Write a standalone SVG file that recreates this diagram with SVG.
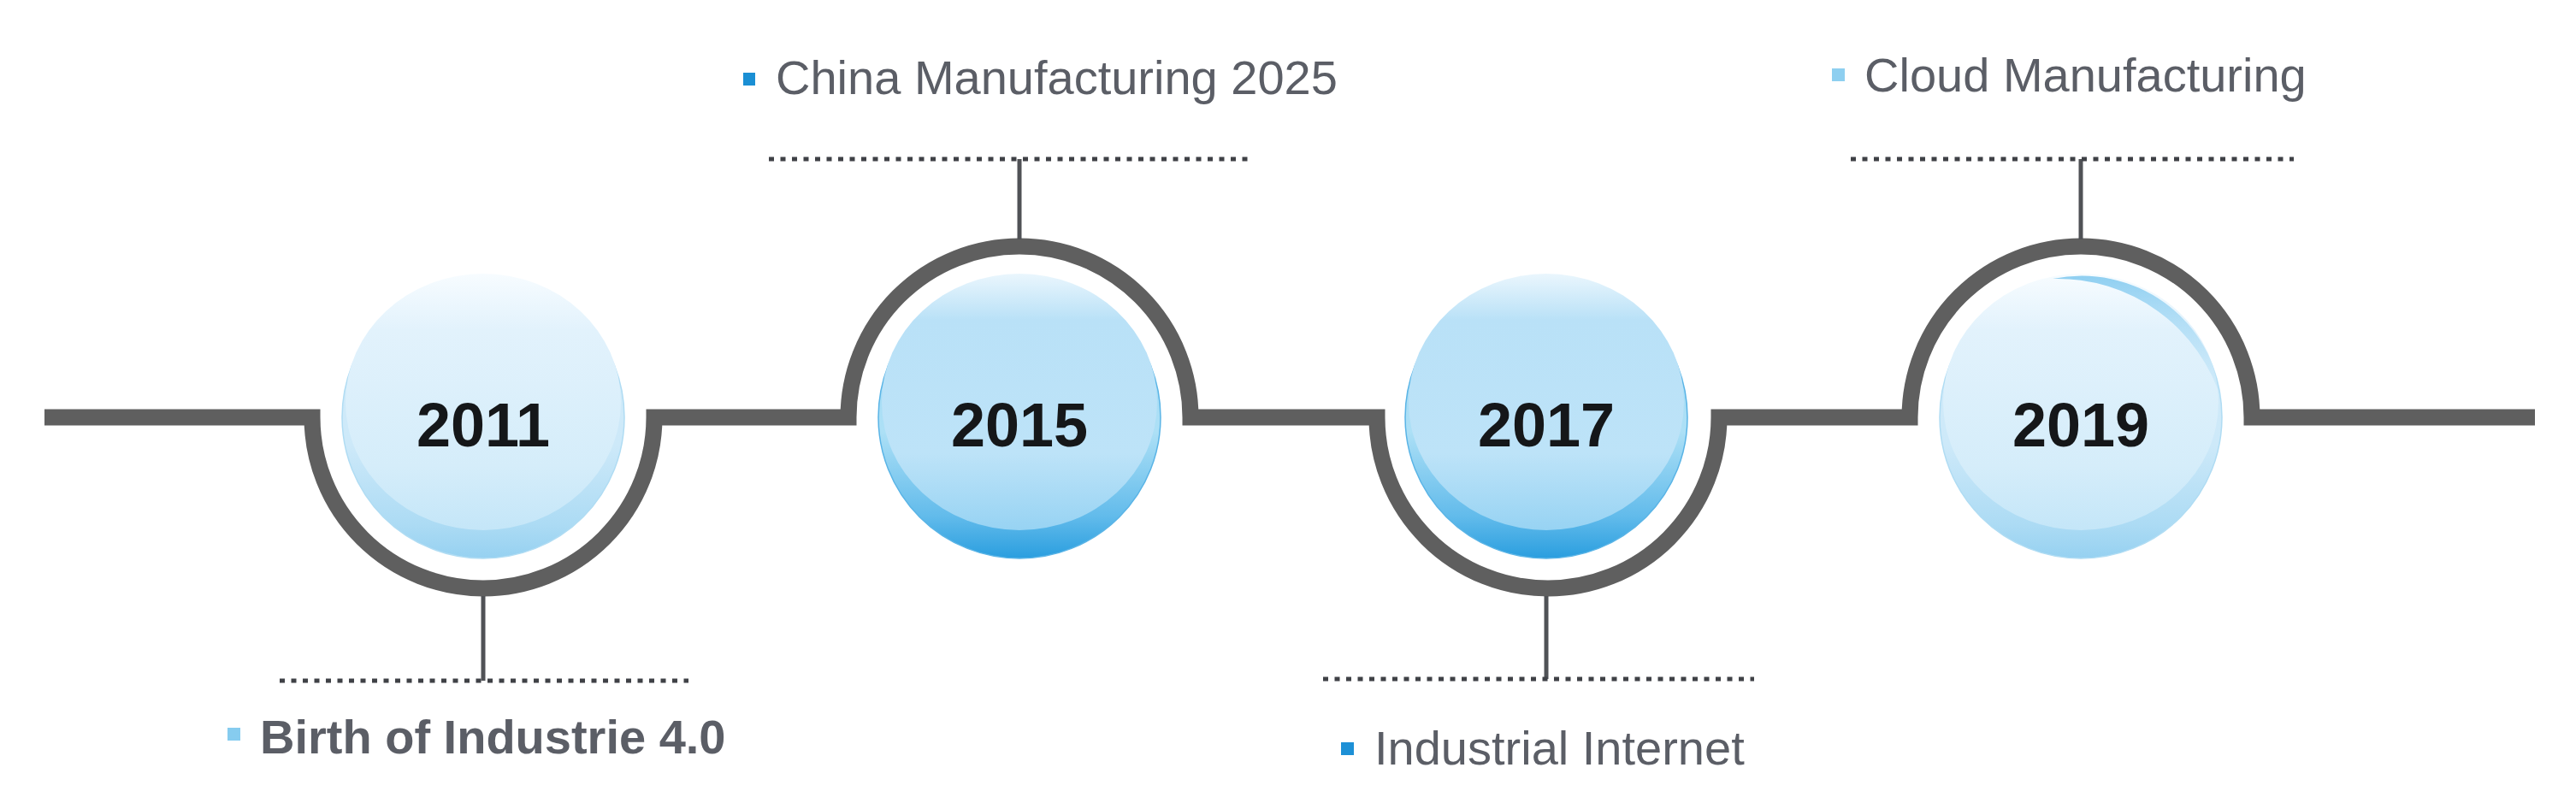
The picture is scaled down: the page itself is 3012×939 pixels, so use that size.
<svg xmlns="http://www.w3.org/2000/svg" width="3012" height="939" viewBox="0 0 3012 939">
<defs>
<linearGradient id="paleOuter" x1="0" y1="0" x2="0" y2="1">
<stop offset="0" stop-color="#d4ecf9"/><stop offset="0.6" stop-color="#cde9f9"/><stop offset="0.88" stop-color="#acdbf4"/><stop offset="1" stop-color="#96d1f1"/>
</linearGradient>
<linearGradient id="paleInner" x1="0" y1="0" x2="0" y2="1">
<stop offset="0" stop-color="#f7fcff"/><stop offset="0.22" stop-color="#e2f2fc"/><stop offset="0.75" stop-color="#d5edfa"/><stop offset="1" stop-color="#c4e6f8"/>
</linearGradient>
<linearGradient id="strongOuter" x1="0" y1="0" x2="0" y2="1">
<stop offset="0" stop-color="#9ad4f2"/><stop offset="0.55" stop-color="#ade0f6"/><stop offset="0.85" stop-color="#62bbeb"/><stop offset="1" stop-color="#2a9edf"/>
</linearGradient>
<linearGradient id="strongInner" x1="0" y1="0" x2="0" y2="1">
<stop offset="0" stop-color="#eaf6fd"/><stop offset="0.18" stop-color="#b9e1f7"/><stop offset="0.7" stop-color="#bde3f8"/><stop offset="1" stop-color="#97d3f3"/>
</linearGradient>
<linearGradient id="crescent" x1="0" y1="0" x2="0" y2="1">
<stop offset="0" stop-color="#8fcff1"/><stop offset="1" stop-color="#bfe4f8" stop-opacity="0.3"/>
</linearGradient>
<style>
.track{fill:none;stroke:#5f5f5f;stroke-width:19;stroke-linejoin:miter}
.stem{stroke:#505256;stroke-width:5}
.dots{stroke:#3f4146;stroke-width:5;stroke-dasharray:6 7.5}
.year{font-family:"Liberation Sans",Arial,sans-serif;font-weight:bold;font-size:72px;fill:#151719;text-anchor:middle}
.lbl{font-family:"Liberation Sans",Arial,sans-serif;font-size:56px;fill:#5b5e66}
.bold{font-weight:bold}
.pale{fill:url(#paleOuter);stroke:#b0dcf3;stroke-width:1.5}
.paleIn{fill:url(#paleInner)}
.strong{fill:url(#strongOuter);stroke:#5ab4e6;stroke-width:1.5}
.strongIn{fill:url(#strongInner)}
</style>
</defs>
<rect width="3012" height="939" fill="#ffffff"/>
<g id="connectors">
<path class="track" d="M52,488 H365 A200,200 0 0 0 765,488 H992 A200,200 0 0 1 1392,488 H1610 A200,200 0 0 0 2010,488 H2233 A200,200 0 0 1 2633,488 H2964"/>
<line class="stem" x1="565" y1="697" x2="565" y2="796"/>
<line class="dots" x1="327" y1="796" x2="805" y2="796"/>
<line class="stem" x1="1192" y1="186" x2="1192" y2="280"/>
<line class="dots" x1="899" y1="186" x2="1465" y2="186"/>
<line class="stem" x1="1808" y1="697" x2="1808" y2="794"/>
<line class="dots" x1="1547" y1="794" x2="2051" y2="794"/>
<line class="stem" x1="2433" y1="186" x2="2433" y2="280"/>
<line class="dots" x1="2164" y1="186" x2="2682" y2="186"/>
</g>
<g id="node-2011">
<circle class="pale" cx="565" cy="488" r="165"/>
<ellipse class="paleIn" cx="565" cy="470" rx="161" ry="150"/>
<text class="year" x="565" y="522">2011</text>
</g>
<g id="node-2015">
<circle class="strong" cx="1192" cy="488" r="165"/>
<ellipse class="strongIn" cx="1192" cy="470" rx="161" ry="150"/>
<text class="year" x="1192" y="522">2015</text>
</g>
<g id="node-2017">
<circle class="strong" cx="1808" cy="488" r="165"/>
<ellipse class="strongIn" cx="1808" cy="470" rx="161" ry="150"/>
<text class="year" x="1808" y="522">2017</text>
</g>
<g id="node-2019">
<circle class="pale" cx="2433" cy="488" r="165"/>
<ellipse class="paleIn" cx="2433" cy="470" rx="161" ry="150"/>
<path d="M2400,326 A165,165 0 0 1 2598,470 A200,200 0 0 0 2400,326 Z" fill="url(#crescent)"/>
<text class="year" x="2433" y="522">2019</text>
</g>
<g id="label-2011">
<rect x="266" y="851" width="15" height="15" fill="#86ccef"/>
<text class="lbl bold" x="304" y="881">Birth of Industrie 4.0</text>
</g>
<g id="label-2015">
<rect x="869" y="85" width="14" height="15" fill="#1a8fd4"/>
<text class="lbl" x="907" y="110">China Manufacturing 2025</text>
</g>
<g id="label-2017">
<rect x="1568" y="868" width="15" height="15" fill="#1d90d6"/>
<text class="lbl" x="1607" y="894">Industrial Internet</text>
</g>
<g id="label-2019">
<rect x="2142" y="80" width="15" height="15" fill="#8ecff0"/>
<text class="lbl" x="2180" y="107">Cloud Manufacturing</text>
</g>
</svg>
